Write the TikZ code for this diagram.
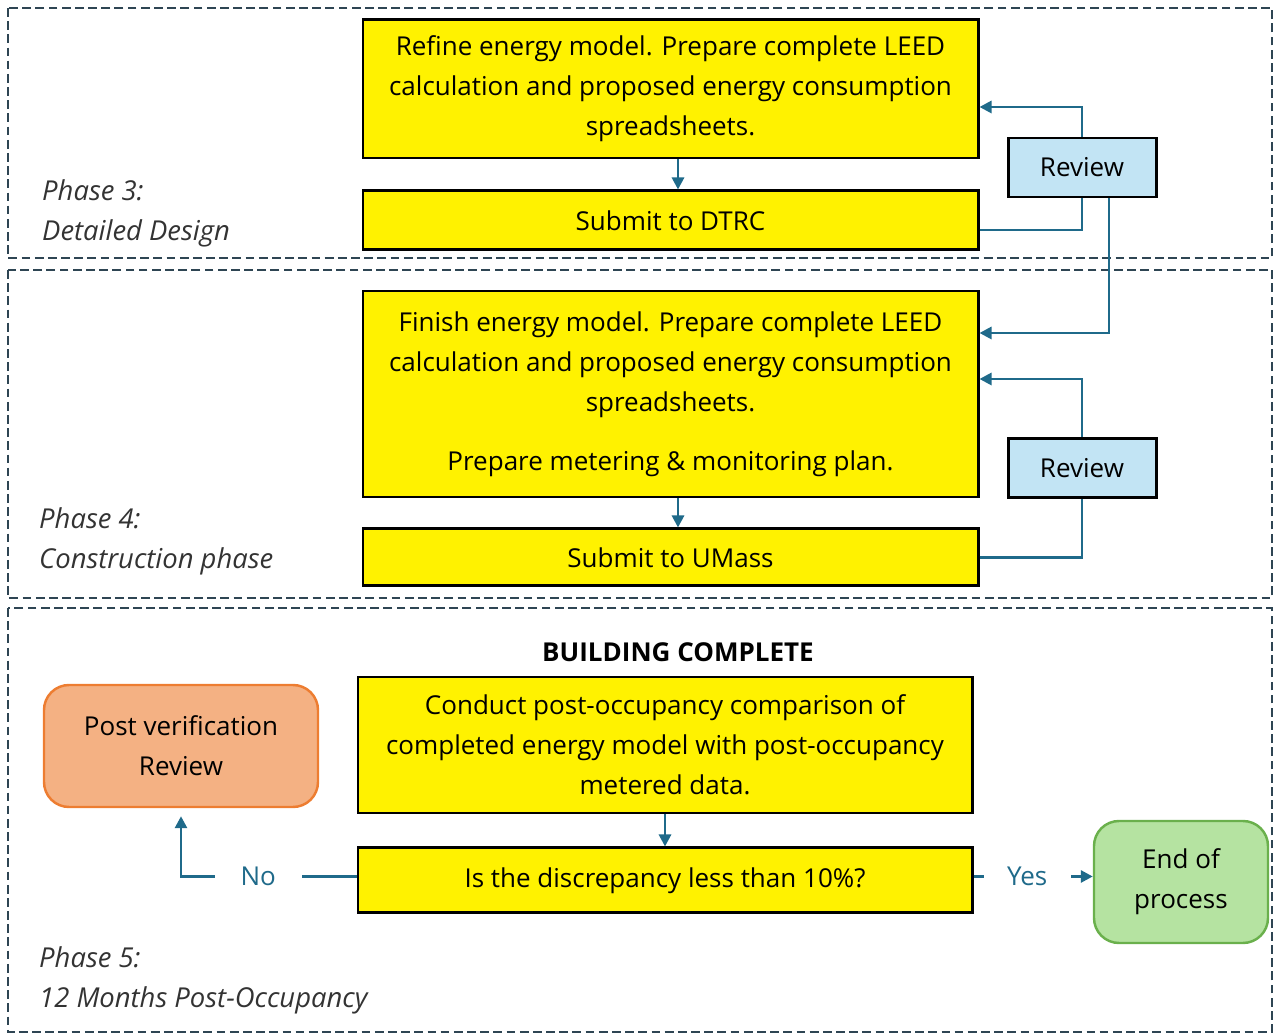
\documentclass[tikz,border=0pt]{standalone}
\usepackage{fontspec}
\setmainfont{Open Sans}
\usepackage{xcolor}
\usepackage{tikz}
\usetikzlibrary{arrows.meta,positioning,calc}

\definecolor{flowblue}{HTML}{1F6A8A}
\definecolor{phasegrey}{HTML}{2E4553}
\definecolor{reviewblue}{HTML}{C2E4F4}
\definecolor{postfill}{HTML}{F4B183}
\definecolor{postline}{HTML}{ED7D31}
\definecolor{endfill}{HTML}{B5E3A1}
\definecolor{endline}{HTML}{6AB04C}

\begin{document}
\begin{tikzpicture}[
    font=\fontsize{14.8}{22.8}\selectfont,
    node distance=0.6cm and 0.6cm,
    task/.style={draw=black, line width=1.7pt, fill=yellow, align=center, minimum width=12.3cm, inner sep=2pt},
    review/.style={draw=black, line width=1.7pt, fill=reviewblue, align=center, minimum width=2.96cm, minimum height=1.18cm},
    outcome/.style={draw, line width=1.4pt, rounded corners=0.5cm, align=center, minimum width=3.48cm, minimum height=2.44cm},
    phasebox/.style={draw=phasegrey, line width=1.6pt, dash pattern=on 5pt off 2.5pt},
    phaselabel/.style={anchor=west, align=left, font=\fontsize{15.6}{22.8}\selectfont\itshape, text=black!80},
    gaplabel/.style={fill=white, text=flowblue, minimum width=1.74cm, inner sep=0pt},
    flow/.style={draw=flowblue, line width=1.6pt, -{Triangle[length=2.4mm, width=2.4mm]}},
    link/.style={draw=flowblue, line width=1.6pt}
]
\useasboundingbox (0,0) rectangle (25.48,-20.68);

% phase frames
\draw[phasebox] (0.16,-0.16) rectangle (25.44,-5.16);
\draw[phasebox] (0.16,-5.40) rectangle (25.44,-11.96);
\draw[phasebox] (0.16,-12.16) rectangle (25.44,-20.64);

% phase 3
\node[task, minimum height=2.76cm] (refine) at (13.41,-1.78) {Refine energy model. Prepare complete LEED\\calculation and proposed energy consumption\\spreadsheets.};
\node[task, minimum height=1.18cm, below=0.6cm of refine] (dtrc) {Submit to DTRC};
\node[review] (review1) at (21.64,-3.35) {Review};
\node[phaselabel] (p3) at (0.72,-4.26) {Phase 3:\\Detailed Design};

% phase 4
\node[task, minimum height=4.12cm] (finish) at (13.41,-7.88) {Finish energy model. Prepare complete LEED\\calculation and proposed energy consumption\\spreadsheets.\\[0.38cm]Prepare metering \& monitoring plan.};
\node[task, minimum height=1.14cm, below=0.58cm of finish] (umass) {Submit to UMass};
\node[review] (review2) at (21.64,-9.36) {Review};
\node[phaselabel] (p4) at (0.66,-10.82) {Phase 4:\\Construction phase};

% phase 5
\node[font=\fontsize{14.8}{22.8}\selectfont\bfseries] (built) at (13.56,-13.04) {BUILDING COMPLETE};
\node[task, minimum width=12.28cm, minimum height=2.72cm] (conduct) at (13.3,-14.9) {Conduct post-occupancy comparison of\\completed energy model with post-occupancy\\metered data.};
\node[task, minimum width=12.28cm, minimum height=1.3cm, below=0.64cm of conduct] (question) {Is the discrepancy less than 10\%?};
\node[outcome, draw=postline, fill=postfill, minimum width=5.48cm] (post) at (3.62,-14.92) {Post verification\\Review};
\node[outcome, draw=endline, fill=endfill] (finale) at (23.62,-17.64) {End of\\process};
\node[phaselabel] (p5) at (0.66,-19.6) {Phase 5:\\12 Months Post-Occupancy};

% connectors
\coordinate (nostart) at ([yshift=0.08cm]question.west);
\coordinate (yesstart) at ([yshift=0.08cm]question.east);
\draw[flow] ([xshift=0.15cm]refine.south) -- ([xshift=0.15cm]dtrc.north);
\draw[flow] (review1.north) |- ([yshift=-0.36cm]refine.east);
\draw[link] ([yshift=-0.19cm]dtrc.east) -| (review1.south);
\draw[flow] ([xshift=0.54cm]review1.south) |- ([yshift=1.22cm]finish.east);
\draw[flow] ([xshift=0.15cm]finish.south) -- ([xshift=0.15cm]umass.north);
\draw[flow] (review2.north) |- ([yshift=0.3cm]finish.east);
\draw[link] (umass.east) -| (review2.south);
\draw[flow] (conduct) -- (question);
\draw[flow, shorten >=0.16cm] (nostart) -- node[gaplabel, pos=0.56] {No} (post.south |- nostart) -- (post.south);
\draw[flow] (yesstart) -- node[gaplabel, pos=0.45] {Yes} (finale.west |- yesstart);
\end{tikzpicture}
\end{document}
